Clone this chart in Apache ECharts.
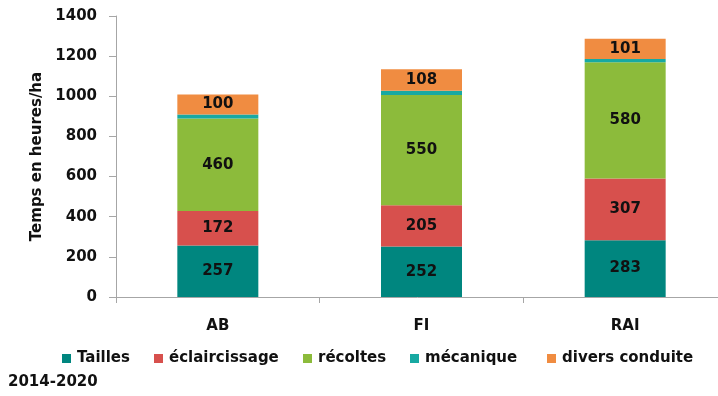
<!DOCTYPE html>
<html><head><meta charset="utf-8">
<script src="https://cdn.jsdelivr.net/npm/echarts@6/dist/echarts.min.js"></script>
<style>html,body{margin:0;padding:0;background:#fff}#c{width:718px;height:396px}</style>
</head><body><div id="c"></div>
<script>
var categories = ['AB', 'FI', 'RAI'];
var seriesNames = ['Tailles', 'éclaircissage', 'récoltes', 'mécanique', 'divers conduite'];
var tailles = [257, 252, 283];
var eclaircissage = [172, 205, 307];
var recoltes = [460, 550, 580];
var mecanique = [20, 20, 16];
var divers = [100, 108, 101];
var yTicks = [0, 200, 400, 600, 800, 1000, 1200, 1400];
var colors = ['#00867F', '#D7504D', '#8CBB3B', '#17A9A2', '#F08C41'];
var showLabel = [true, true, true, false, true];
var FONT = 'DejaVu Sans';
var FS = 15;
var values = [tailles, eclaircissage, recoltes, mecanique, divers];
var legendLeft = [62, 154, 303, 410, 547];

var chart = echarts.init(document.getElementById('c'), null, {renderer: 'canvas'});
var series = seriesNames.map(function (n, i) {
  return {
    name: n, type: 'bar', stack: 'total', data: values[i], barWidth: 81,
    itemStyle: {color: colors[i]},
    label: {show: showLabel[i], position: 'inside', color: '#111', fontFamily: FONT, fontWeight: 'bold', fontSize: FS}
  };
});
chart.setOption({
  animation: false,
  color: colors,
  grid: {left: 116, right: -9, top: 16, bottom: 99, containLabel: false, outerBoundsMode: 'none'},
  legend: seriesNames.map(function (n, i) {
    return {data: [n], left: legendLeft[i], top: 351, itemWidth: 9, itemHeight: 9, itemGap: 0,
      icon: 'rect', padding: 0,
      textStyle: {fontFamily: FONT, fontWeight: 'bold', fontSize: FS, color: '#111', padding: [0, 0, 0, 1]}};
  }),
  graphic: [{type: 'text', left: 8, top: 375, style: {text: '2014-2020', fontFamily: FONT, fontWeight: 'bold', fontSize: FS, fill: '#111'}}],
  xAxis: {
    type: 'category', data: categories,
    axisLine: {lineStyle: {color: '#A6A6A6'}},
    axisTick: {show: true, length: 6, lineStyle: {color: '#A6A6A6'}},
    axisLabel: {margin: 22, fontFamily: FONT, fontWeight: 'bold', fontSize: FS, color: '#111'}
  },
  yAxis: {
    type: 'value', min: yTicks[0], max: yTicks[yTicks.length - 1], interval: 200,
    name: 'Temps en heures/ha', nameLocation: 'middle', nameGap: 66,
    nameTextStyle: {fontFamily: FONT, fontWeight: 'bold', fontSize: FS, color: '#111'},
    axisLine: {show: true, lineStyle: {color: '#A6A6A6'}},
    axisTick: {show: true, length: 7, lineStyle: {color: '#A6A6A6'}},
    splitLine: {show: false},
    axisLabel: {margin: 19, fontFamily: FONT, fontWeight: 'bold', fontSize: FS, color: '#111',
      formatter: function (v) { return String(v); }}
  },
  series: series
});
</script></body></html>
